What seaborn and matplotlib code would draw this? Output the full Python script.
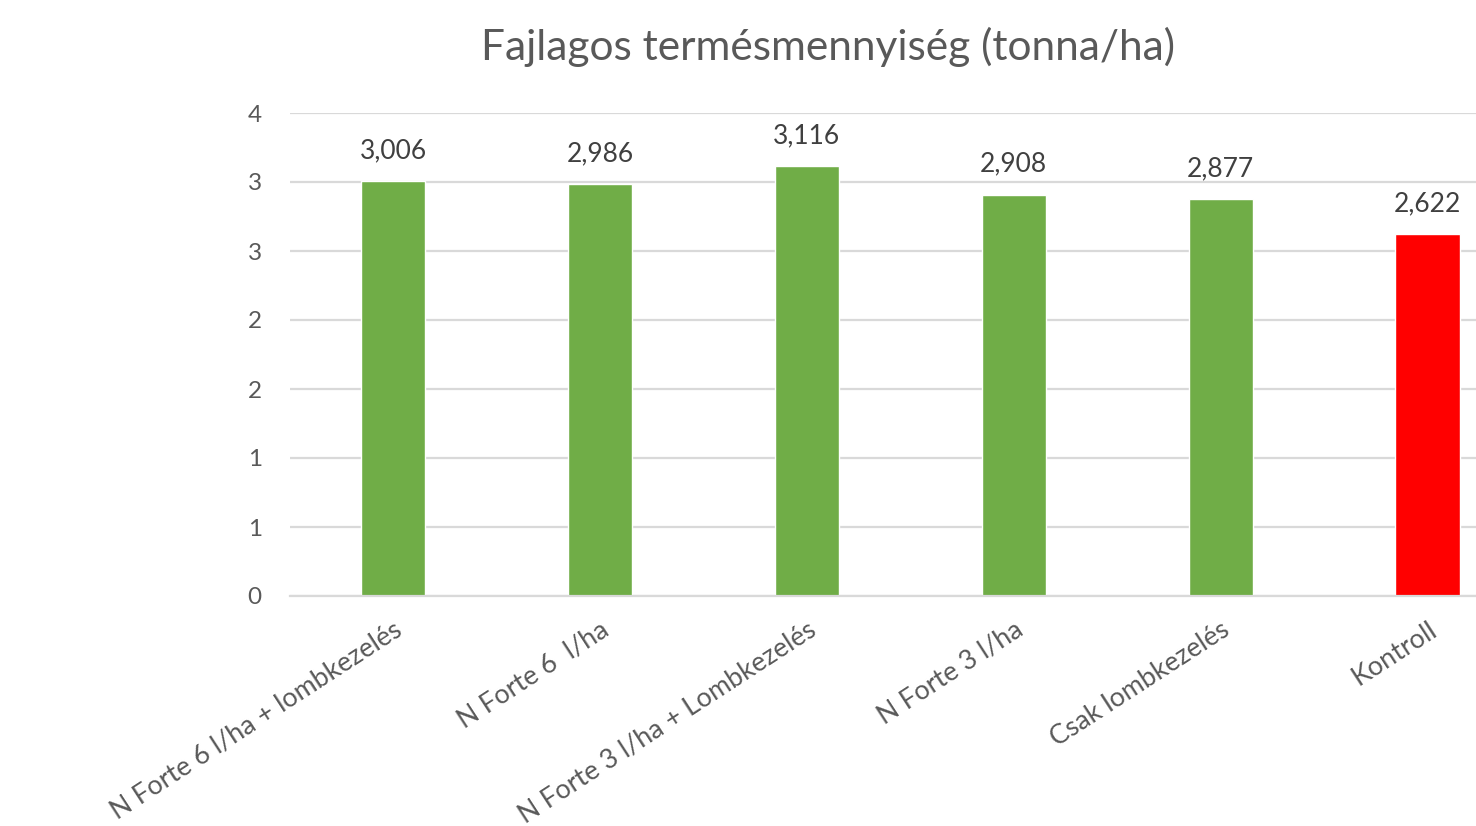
import pandas as pd
import seaborn as sns
import matplotlib.pyplot as plt
import matplotlib.ticker as mticker
import numpy as np

# 1. Data
treatments = ['N Forte 6 l/ha + lombkezelés', 'N Forte 6  l/ha', 'N Forte 3 l/ha + Lombkezelés',
              'N Forte 3 l/ha', 'Csak lombkezelés', 'Kontroll']
yield_t_ha = [3.006, 2.986, 3.116, 2.908, 2.877, 2.622]
group = ['kezelt', 'kezelt', 'kezelt', 'kezelt', 'kezelt', 'kontroll']
ytick_values = [0, 0.5, 1.0, 1.5, 2.0, 2.5, 3.0, 3.5]

df = pd.DataFrame({'treatment': treatments, 'yield': yield_t_ha, 'group': group})

# 2. Style
sns.set_style("white")
plt.rcParams["font.family"] = ["Lato", "DejaVu Sans"]
text_grey = '#595959'

# 3. Plot
fig = plt.figure(figsize=(14.76, 8.26), dpi=100)
ax = fig.add_axes([289.5 / 1476, 230 / 826, 1241.5 / 1476, 483 / 826])

sns.barplot(data=df, x='treatment', y='yield', hue='group', dodge=False, legend=False,
            palette={'kezelt': '#70AD47', 'kontroll': '#FF0000'}, width=0.31, ax=ax,
            saturation=1)

for cont in ax.containers:
    ax.bar_label(cont, labels=[f"{v:.3f}".replace('.', ',') for v in cont.datavalues],
                 padding=13, fontsize=19, color='#404040')

ax.set_ylim(0, 3.5)
ax.set_xlim(-0.5, 5.5)
ax.set_yticks(ytick_values)
# Excel-like rounding of the half steps (0.5 -> 1, 1.5 -> 2, ...)
ax.yaxis.set_major_formatter(mticker.FuncFormatter(lambda v, p: f"{int(np.floor(v + 0.5))}"))
ax.grid(axis='y', color='#d9d9d9', linewidth=1.6)
ax.set_axisbelow(True)
for s in ['top', 'right', 'left']:
    ax.spines[s].set_visible(False)
ax.spines['bottom'].set_color('#d9d9d9')
ax.spines['bottom'].set_linewidth(1.6)

ax.tick_params(axis='y', length=0, pad=20, labelsize=17.5, labelcolor=text_grey)
ax.tick_params(axis='x', length=0, pad=15, labelsize=19.3, labelcolor=text_grey)
ax.set_xticks(range(len(treatments)), labels=treatments, rotation=33, ha='right',
              va='top', rotation_mode='anchor')
ax.set_xlabel('')
ax.set_ylabel('')

fig.text(828 / 1476, 1 - 47 / 826, 'Fajlagos termésmennyiség (tonna/ha)', ha='center', va='center',
         fontsize=30.5, color=text_grey)

fig.savefig('out.png', dpi=100)
